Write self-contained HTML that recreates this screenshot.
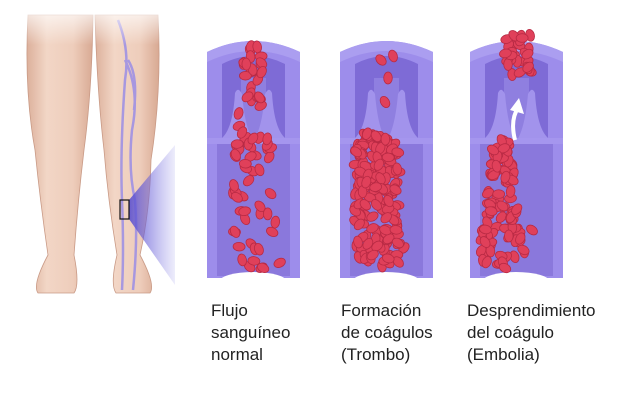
<!DOCTYPE html>
<html><head><meta charset="utf-8"><style>
html,body{margin:0;padding:0;background:#fff;width:640px;height:402px;overflow:hidden}
.lab{position:absolute;font-family:"Liberation Sans",sans-serif;font-size:17px;line-height:22px;color:#222}
</style></head><body>
<svg width="640" height="402" style="position:absolute;left:0;top:0" xmlns="http://www.w3.org/2000/svg">
<defs>
<linearGradient id="fade" x1="0" y1="0" x2="0" y2="1"><stop offset="0" stop-color="#fff" stop-opacity="1"/><stop offset="1" stop-color="#fff" stop-opacity="0"/></linearGradient>
<linearGradient id="tri" x1="0" y1="0" x2="1" y2="0"><stop offset="0" stop-color="#5a4fd0" stop-opacity="0.9"/><stop offset="1" stop-color="#8a85e6" stop-opacity="0.15"/></linearGradient>
<linearGradient id="skin" x1="0" y1="0" x2="1" y2="0"><stop offset="0" stop-color="#dcb09b"/><stop offset="0.3" stop-color="#f2d6c6"/><stop offset="0.7" stop-color="#eecdbb"/><stop offset="1" stop-color="#d8a993"/></linearGradient>
<g id="vein">
<path d="M0,14 Q46,-8 93,14 L93,240 L0,240 Z" fill="#9d8deb"/>
<path d="M0,14 Q46,-8 93,14 L93,24 Q46,2 0,24 Z" fill="#ab9ef0"/>
<path d="M15,26 Q46,10 78,26 L78,102 L15,102 Z" fill="#7e6bd6"/>
<path d="M34,40 L59,40 L59,102 L34,102 Z" fill="#8f7fe0"/>
<path d="M10,102 L83,102 L83,238 L10,238 Z" fill="#8a78dc"/>
<path d="M15,100 Q26,90 28,55 Q31,48 35,56 Q38,90 46,102 Z" fill="#a293ec"/>
<path d="M78,100 Q67,90 65,55 Q62,48 58,56 Q55,90 47,102 Z" fill="#a293ec"/>
<rect x="0" y="100" width="93" height="6" fill="#a596ee"/>
<ellipse cx="46" cy="244" rx="34" ry="10" fill="#fff"/>
</g>
</defs>
<!-- legs -->
<path d="M28,15 L93,15 Q92,90 84,150 Q78,200 74,255 Q80,285 74,293 L38,293 Q32,285 48,255 Q40,200 35,150 Q24,90 28,15 Z" fill="url(#skin)" stroke="#c99a86" stroke-width="0.8"/>
<path d="M95,15 L158,15 Q162,90 151,160 Q150,210 140,255 Q156,285 150,293 L116,293 Q110,285 117,255 Q108,200 104,150 Q97,90 95,15 Z" fill="url(#skin)" stroke="#c99a86" stroke-width="0.8"/>
<g fill="none" stroke="#9b8ee6" stroke-width="2.5" opacity="0.85">
<path d="M118,20 Q130,50 125,80 Q120,150 122,200 Q124,250 122,290"/>
<path d="M125,60 Q140,90 132,130 Q128,170 135,200 Q138,240 133,290"/>
<path d="M128,60 Q138,75 134,110"/>
</g>
<rect x="0" y="0" width="180" height="45" fill="url(#fade)"/>
<path d="M129,200 L175,145 L175,285 L129,219 Z" fill="url(#tri)"/>
<rect x="120" y="200" width="9" height="19" fill="none" stroke="#111" stroke-width="1.2"/>
<use href="#vein" x="207" y="38"/>
<use href="#vein" x="340" y="38"/>
<use href="#vein" x="470" y="38"/>
<g id="cells"></g>
<path d="M515,140 Q510,120 518,108" fill="none" stroke="#fff" stroke-width="4"/>
<path d="M510,110 L519,98 L524,114 Z" fill="#fff"/>
</svg>
<div class="lab" style="left:211px;top:300px">Flujo<br>sanguíneo<br>normal</div>
<div class="lab" style="left:341px;top:300px">Formación<br>de coágulos<br>(Trombo)</div>
<div class="lab" style="left:467px;top:300px">Desprendimiento<br>del coágulo<br>(Embolia)</div>
<script>
(function(){
var g=document.getElementById('cells'),s=7;
function r(){s=(s*9301+49297)%233280;return s/233280;}
function cell(x,y){var e=document.createElementNS('http://www.w3.org/2000/svg','ellipse');
e.setAttribute('cx',x);e.setAttribute('cy',y);e.setAttribute('rx',6);e.setAttribute('ry',4.3);
e.setAttribute('transform','rotate('+Math.floor(r()*180)+' '+x+' '+y+')');
e.setAttribute('fill','#e0405a');e.setAttribute('stroke','#b82a44');e.setAttribute('stroke-width','0.8');g.appendChild(e);}
var i;
for(i=0;i<75;i++){var y=45+r()*225;var w=8+(y-45)/225*24;cell(253+(r()-0.5)*2*w,y);}
cell(381,60);cell(393,56);cell(388,78);cell(385,102);cell(395,155);cell(398,205);cell(404,248);cell(382,266);
for(i=0;i<170;i++){var y2=133+r()*132;var hw=22+(y2<150?(y2-133)*0.6-10:0);cell(377+(r()-0.5)*2*hw,y2);}
for(i=0;i<30;i++){cell(518+(r()-0.5)*26,35+r()*40);}
for(i=0;i<100;i++){var y3=140+r()*125;var hw3=7+(y3-140)/125*18;cell(502+(r()-0.5)*2*hw3,y3);}
cell(532,230);cell(505,268);cell(493,150);
})();
</script>
</body></html>
